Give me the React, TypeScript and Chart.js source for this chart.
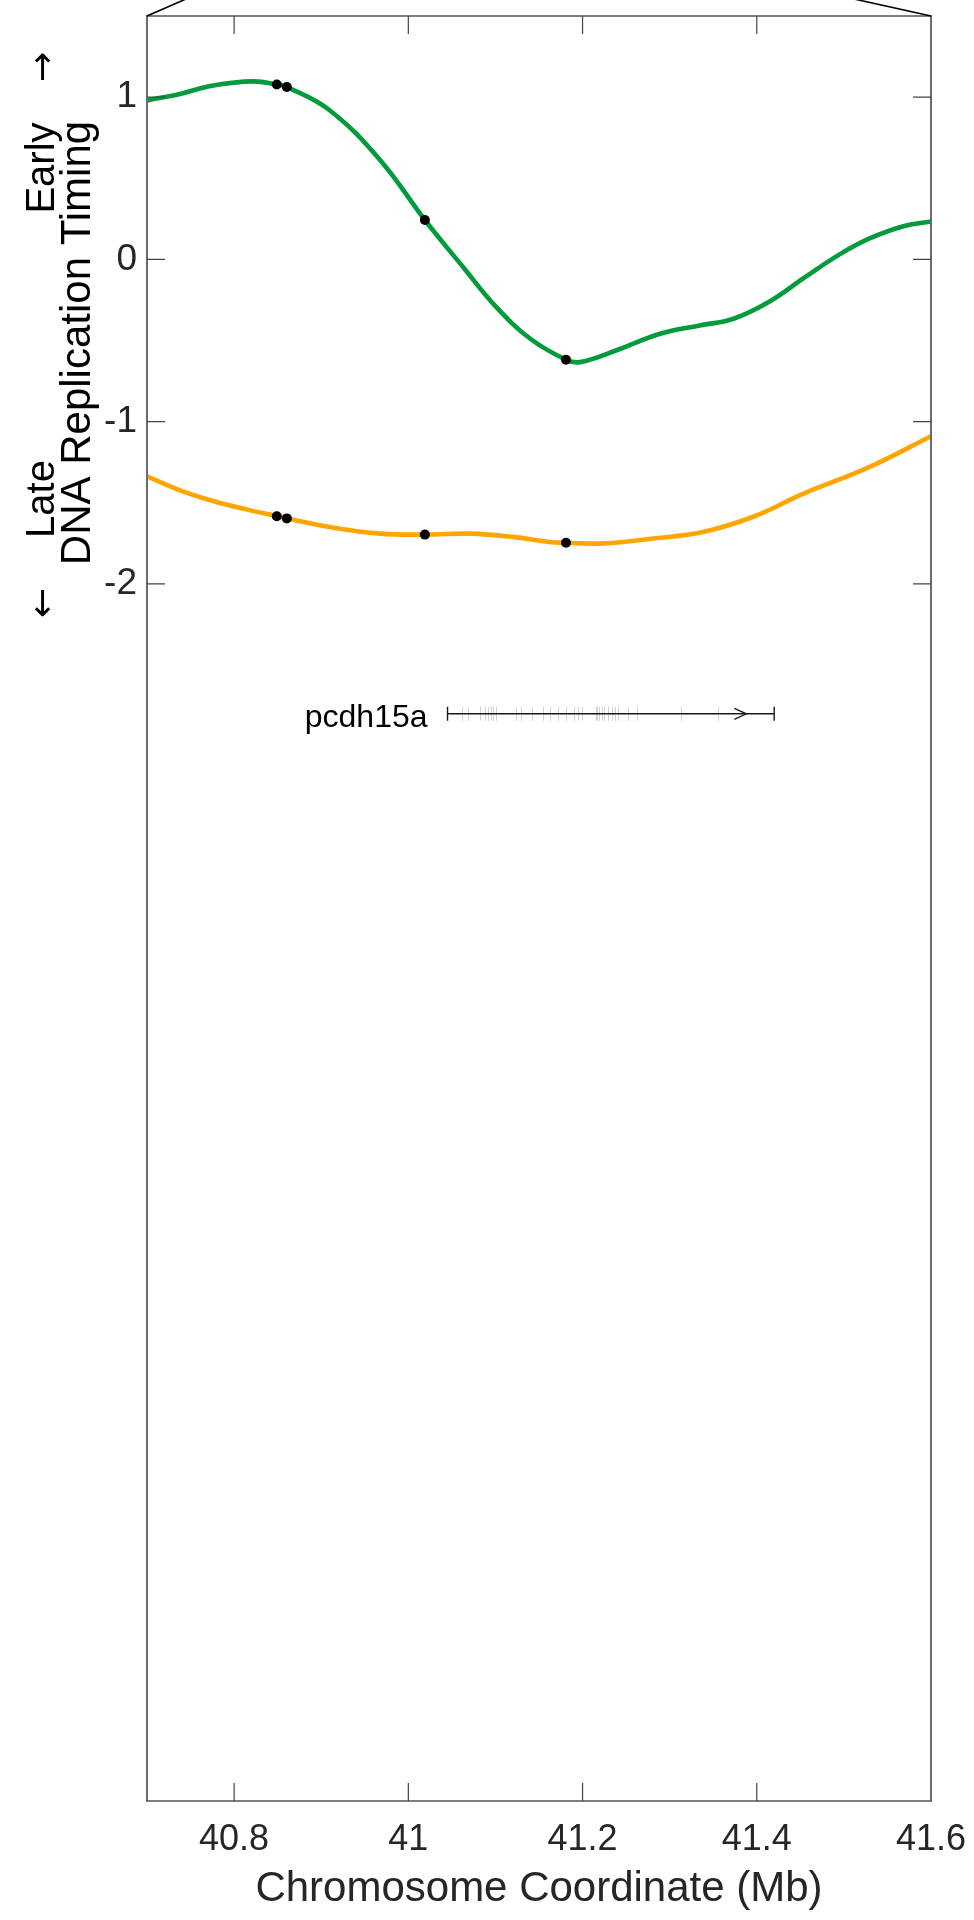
import React, { useEffect, useRef } from 'react';
import { Chart, registerables } from 'chart.js';

Chart.register(...registerables);

const FONT = '"Liberation Sans", Arial, Helvetica, sans-serif';

// Smoothed replication-timing profiles (x in Mb)
const greenX = [40.7, 40.738, 40.776, 40.822, 40.849, 40.861, 40.91, 40.968, 41.019, 41.063, 41.101, 41.14, 41.181, 41.197, 41.239, 41.289, 41.3345, 41.3724, 41.4148, 41.455, 41.4951, 41.5295, 41.5674, 41.6];
const greenY = [0.98, 1.02, 1.072, 1.097, 1.078, 1.062, 0.918, 0.61, 0.243, -0.048, -0.294, -0.489, -0.618, -0.633, -0.56, -0.458, -0.407, -0.367, -0.259, -0.111, 0.031, 0.129, 0.203, 0.234];

const orangeX = [40.7, 40.738, 40.776, 40.815, 40.85, 40.861, 40.91, 40.968, 41.019, 41.071, 41.12, 41.162, 41.181, 41.224, 41.281, 41.338, 41.396, 41.453, 41.529, 41.6];
const orangeY = [-1.337, -1.423, -1.489, -1.542, -1.583, -1.596, -1.649, -1.69, -1.696, -1.69, -1.71, -1.741, -1.746, -1.75, -1.72, -1.68, -1.586, -1.445, -1.28, -1.09];

// Sampled positions (black dots)
const dotX = [40.849, 40.8605, 41.019, 41.181];
const dotGreenY = [1.078, 1.062, 0.243, -0.618];
const dotOrangeY = [-1.583, -1.596, -1.696, -1.746];

// Axis ticks
const xTicks = [40.8, 41, 41.2, 41.4, 41.6];
const yTicks = [1, 0, -1, -2];

// Gene annotation
const geneName = 'pcdh15a';
const geneStart = 41.045;
const geneEnd = 41.42;
const geneArrow = 41.388;
const geneY = -2.8;
const exons = [41.0612, 41.0688, 41.0822, 41.0879, 41.0917, 41.0945, 41.0975, 41.1002, 41.1235, 41.1289, 41.1415, 41.1548, 41.1625, 41.1713, 41.1805, 41.1904, 41.1943, 41.1992, 41.2149, 41.2167, 41.219, 41.2218, 41.2244, 41.2294, 41.2339, 41.2378, 41.2408, 41.2523, 41.2626, 41.3135, 41.3555];

const decorPlugin = {
  id: 'decor',
  afterDraw(chart: any) {
    const ctx = chart.ctx as CanvasRenderingContext2D;
    const { left, right, top, bottom } = chart.chartArea;
    const xs = chart.scales.x;
    const ys = chart.scales.y;
    ctx.save();

    // gene track
    const gy = ys.getPixelForValue(geneY);
    const gx0 = xs.getPixelForValue(geneStart);
    const gx1 = xs.getPixelForValue(geneEnd);
    ctx.lineWidth = 1;
    ctx.strokeStyle = 'rgba(0,0,0,0.18)';
    exons.forEach((e) => {
      const px = Math.round(xs.getPixelForValue(e)) + 0.5;
      ctx.beginPath();
      ctx.moveTo(px, gy - 7);
      ctx.lineTo(px, gy + 7);
      ctx.stroke();
    });
    ctx.strokeStyle = '#1a1a1a';
    ctx.lineWidth = 1.4;
    ctx.beginPath();
    ctx.moveTo(gx0, gy);
    ctx.lineTo(gx1, gy);
    ctx.moveTo(gx0, gy - 7);
    ctx.lineTo(gx0, gy + 7);
    ctx.moveTo(gx1, gy - 7);
    ctx.lineTo(gx1, gy + 7);
    ctx.stroke();
    const ax = xs.getPixelForValue(geneArrow);
    ctx.beginPath();
    ctx.moveTo(ax - 12, gy - 5.5);
    ctx.lineTo(ax, gy);
    ctx.lineTo(ax - 12, gy + 5.5);
    ctx.stroke();
    ctx.fillStyle = '#000';
    ctx.font = `32px ${FONT}`;
    ctx.textAlign = 'right';
    ctx.textBaseline = 'alphabetic';
    ctx.fillText(geneName, gx0 - 20, gy + 13);

    // box
    ctx.strokeStyle = '#6b6b6b';
    ctx.lineWidth = 2;
    ctx.beginPath();
    ctx.moveTo(left, top);
    ctx.lineTo(left, bottom);
    ctx.moveTo(right, top);
    ctx.lineTo(right, bottom);
    ctx.stroke();
    ctx.strokeStyle = '#555';
    ctx.lineWidth = 1.5;
    ctx.beginPath();
    ctx.moveTo(left - 1, top);
    ctx.lineTo(right + 1, top);
    ctx.moveTo(left - 1, bottom);
    ctx.lineTo(right + 1, bottom);
    ctx.stroke();

    // inward ticks
    ctx.strokeStyle = '#444';
    ctx.lineWidth = 1.2;
    ctx.beginPath();
    xTicks.forEach((t) => {
      const px = xs.getPixelForValue(t);
      if (px > right - 2) return;
      ctx.moveTo(px, bottom);
      ctx.lineTo(px, bottom - 18);
      ctx.moveTo(px, top);
      ctx.lineTo(px, top + 18);
    });
    yTicks.forEach((t) => {
      const py = ys.getPixelForValue(t);
      ctx.moveTo(left, py);
      ctx.lineTo(left + 18, py);
      ctx.moveTo(right, py);
      ctx.lineTo(right - 18, py);
    });
    ctx.stroke();

    // zoom connector lines at the top corners
    ctx.strokeStyle = '#000';
    ctx.lineWidth = 1.6;
    ctx.beginPath();
    ctx.moveTo(left, top);
    ctx.lineTo(left + (36 * 30) / 15.7, top - 30);
    ctx.moveTo(right, top);
    ctx.lineTo(right - (71 * 30) / 15.7, top - 30);
    ctx.stroke();

    // y-axis title (rotated)
    const drawRot = (text: string, bx: number, cy: number, font: string) => {
      ctx.save();
      ctx.translate(bx, cy);
      ctx.rotate(-Math.PI / 2);
      ctx.font = font;
      ctx.textAlign = 'center';
      ctx.textBaseline = 'alphabetic';
      ctx.fillStyle = '#000';
      ctx.fillText(text, 0, 0);
      ctx.restore();
    };
    drawRot('DNA Replication Timing', 90, 343, `42px ${FONT}`);
    drawRot('Early', 54, 168, `40px ${FONT}`);
    drawRot('Late', 54, 499, `40px ${FONT}`);
    drawRot('\u2192', 54, 67, `36px "DejaVu Sans", ${FONT}`);
    drawRot('\u2190', 54, 603, `36px "DejaVu Sans", ${FONT}`);

    ctx.restore();
  },
};

export default function App() {
  const ref = useRef<HTMLCanvasElement | null>(null);

  useEffect(() => {
    document.body.style.margin = '0';
    const canvas = ref.current;
    if (!canvas) return;
    const chart = new Chart(canvas, {
      type: 'line',
      data: {
        datasets: [
          {
            label: 'samples',
            data: [
              ...dotX.map((x, i) => ({ x, y: dotGreenY[i] })),
              ...dotX.map((x, i) => ({ x, y: dotOrangeY[i] })),
            ],
            showLine: false,
            pointRadius: 5,
            pointBackgroundColor: '#000',
            pointBorderWidth: 0,
            borderColor: '#000',
          } as any,
          {
            label: 'early',
            data: greenX.map((x, i) => ({ x, y: greenY[i] })),
            borderColor: '#009B3A',
            borderWidth: 4.6,
            pointRadius: 0,
            tension: 0.4,
            fill: false,
            clip: 0,
          } as any,
          {
            label: 'late',
            data: orangeX.map((x, i) => ({ x, y: orangeY[i] })),
            borderColor: '#FFA500',
            borderWidth: 4.6,
            pointRadius: 0,
            tension: 0.4,
            fill: false,
            clip: 0,
          } as any,
        ],
      },
      plugins: [decorPlugin],
      options: {
        animation: false,
        responsive: false,
        devicePixelRatio: 1,
        events: [],
        layout: { padding: { top: 16, right: 43, left: 0, bottom: 0 } },
        plugins: {
          legend: { display: false },
          tooltip: { enabled: false },
        },
        scales: {
          x: {
            type: 'linear',
            min: 40.7,
            max: 41.6,
            grid: { display: false, drawTicks: false },
            border: { display: false },
            ticks: {
              padding: 17,
              autoSkip: false,
              maxRotation: 0,
              color: '#262626',
              font: { family: FONT, size: 36 },
              callback: (v: any) => String(Math.round(Number(v) * 10) / 10),
            },
            afterBuildTicks: (s: any) => {
              s.ticks = xTicks.map((value) => ({ value }));
            },
            afterFit: (s: any) => {
              s.height = 119;
              s.paddingLeft = 0;
              s.paddingRight = 0;
            },
            title: {
              display: true,
              text: 'Chromosome Coordinate (Mb)',
              color: '#262626',
              font: { family: FONT, size: 42 },
              padding: { top: 0, bottom: 5 },
            },
          },
          y: {
            type: 'linear',
            min: -9.5,
            max: 1.5,
            grid: { display: false, drawTicks: false },
            border: { display: false },
            ticks: {
              padding: 10,
              color: '#262626',
              font: { family: FONT, size: 37 },
              callback: (v: any) => String(Math.round(Number(v))),
            },
            afterBuildTicks: (s: any) => {
              s.ticks = yTicks.map((value) => ({ value }));
            },
            afterFit: (s: any) => {
              s.width = 147;
              s.paddingTop = 0;
              s.paddingBottom = 0;
            },
          },
        },
      } as any,
    });
    return () => chart.destroy();
  }, []);

  return (
    <div style={{ position: 'absolute', left: 0, top: 0, width: 974, height: 1920 }}>
      <canvas ref={ref} width={974} height={1920} style={{ width: 974, height: 1920, display: 'block' }} />
    </div>
  );
}
